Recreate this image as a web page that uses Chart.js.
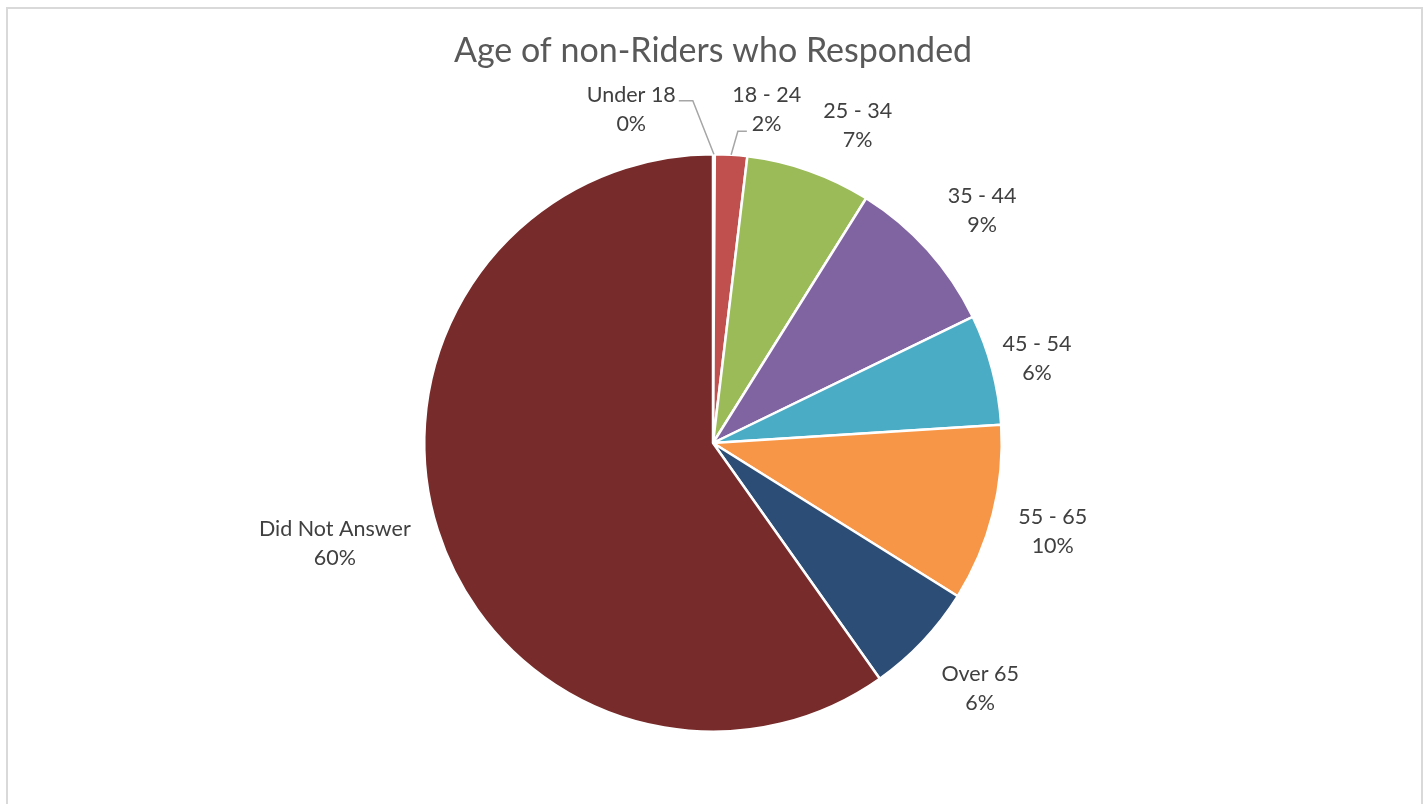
<!DOCTYPE html>
<html>
<head>
<meta charset="utf-8">
<script src="https://cdn.jsdelivr.net/npm/chart.js@4"></script>
<style>
  html, body { margin: 0; padding: 0; background: #fff; overflow: hidden; }
  #frame { position: absolute; left: 6px; top: 7px; width: 1413px; height: 900px; border: 2px solid #d9d9d9; }
  #wrap { position: absolute; left: 0; top: 0; width: 1427px; height: 804px; }
</style>
</head>
<body>
<div id="frame"></div>
<div id="wrap"><canvas id="pieChart" width="1427" height="804"></canvas></div>
<script>
const categories = ["Under 18", "18 - 24", "25 - 34", "35 - 44", "45 - 54", "55 - 65", "Over 65", "Did Not Answer"];
const shares = [0.1, 1.8, 7.0, 8.9, 6.2, 9.9, 6.3, 59.8];
const sliceColors = ["#4F81BD", "#C0504D", "#9BBB59", "#8064A2", "#4BACC6", "#F79646", "#2C4D75", "#772B2A"];

const FONT = "Lato, 'Open Sans', sans-serif";

// labels outside the pie, Excel "best fit" style; two tiny slices get leader lines
const outsideLabels = {
  id: "outsideLabels",
  afterDatasetsDraw(chart, args, opts) {
    const ctx = chart.ctx;
    const meta = chart.getDatasetMeta(0);
    const total = shares.reduce((a, b) => a + b, 0);
    ctx.save();
    ctx.font = "21.5px " + FONT;
    ctx.fillStyle = "#404040";
    ctx.textAlign = "center";
    ctx.textBaseline = "middle";
    meta.data.forEach((arc, i) => {
      const { x, y, startAngle, endAngle, outerRadius } = arc.getProps(["x", "y", "startAngle", "endAngle", "outerRadius"], true);
      const mid = (startAngle + endAngle) / 2;
      const ux = Math.cos(mid), uy = Math.sin(mid);
      const line1 = categories[i];
      const line2 = Math.round(shares[i] / total * 100) + "%";
      const w = Math.max(ctx.measureText(line1).width, ctx.measureText(line2).width);
      const h = 58;
      const R = outerRadius + opts.gap;
      const clamp = v => Math.max(-1, Math.min(1, v));
      let cx = x + ux * R + clamp(ux * 2) * w / 2;
      let cy = y + uy * R + clamp(uy * 2) * h / 2;
      const shift = opts.shift[i];
      if (shift) { cx += shift[0]; cy += shift[1]; }
      const y1 = cy - 14.5, y2 = cy + 14.5;
      ctx.fillText(line1, cx, y1);
      ctx.fillText(line2, cx, y2);

      const leader = opts.leader[i];
      if (leader) {
        const ex = x + ux * outerRadius, ey = y + uy * outerRadius;
        let sx, sy, kx;
        if (leader === "right1") {
          sx = cx + ctx.measureText(line1).width / 2 + 3; sy = y1 + 6; kx = sx + 14;
        } else {
          sx = cx - ctx.measureText(line2).width / 2 - 5; sy = y2 + 7; kx = sx - 9;
        }
        ctx.strokeStyle = "#a6a6a6";
        ctx.lineWidth = 1.5;
        ctx.beginPath();
        ctx.moveTo(sx, sy);
        ctx.lineTo(kx, sy);
        ctx.lineTo(ex, ey);
        ctx.stroke();
      }
    });
    ctx.restore();
  }
};

new Chart(document.getElementById("pieChart"), {
  type: "pie",
  data: {
    labels: categories,
    datasets: [{
      data: shares,
      backgroundColor: sliceColors,
      borderColor: "#ffffff",
      borderWidth: 2.5
    }]
  },
  options: {
    responsive: false,
    animation: false,
    layout: { padding: { top: 0, bottom: 71, left: 0, right: 1 } },
    plugins: {
      legend: { display: false },
      tooltip: { enabled: false },
      title: {
        display: true,
        text: "Age of non-Riders who Responded",
        color: "#595959",
        font: { family: FONT, size: 34, weight: "normal", lineHeight: 1.2 },
        padding: { top: 30.6, bottom: 81.6 }
      },
      outsideLabels: {
        gap: 20,
        shift: [[-83, 4], [30, 4], [19, 3], [5, 3], [-9, 9], [6, -2], [4, 5], [-8, -11]],
        leader: ["right1", "left2"]
      }
    }
  },
  plugins: [outsideLabels]
});
</script>
</body>
</html>
